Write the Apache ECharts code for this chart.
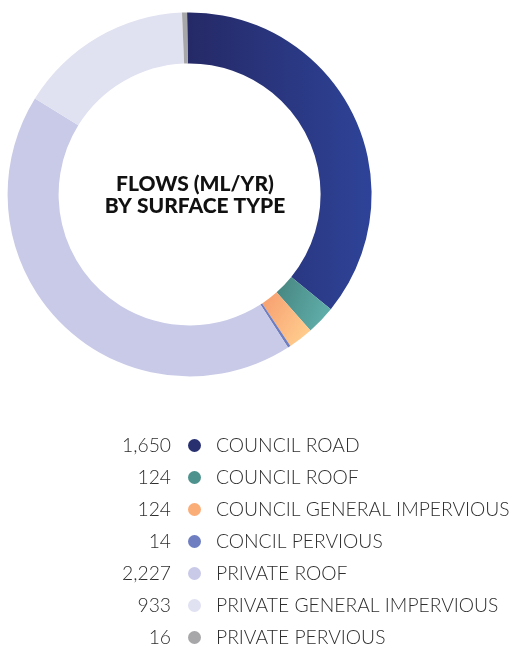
<!DOCTYPE html>
<html>
<head>
<meta charset="utf-8">
<script src="https://cdn.jsdelivr.net/npm/echarts@6/dist/echarts.min.js"></script>
<style>
html,body{margin:0;padding:0;background:#fff;}
#chart{width:515px;height:646px;}
</style>
</head>
<body>
<div id="chart"></div>
<script>
// Categories shown in the legend
const categories = [
  'COUNCIL ROAD',
  'COUNCIL ROOF',
  'COUNCIL GENERAL IMPERVIOUS',
  'CONCIL PERVIOUS',
  'PRIVATE ROOF',
  'PRIVATE GENERAL IMPERVIOUS',
  'PRIVATE PERVIOUS'
];
// Flow values printed next to the legend (ML/yr)
const flowLabels = ['1,650', '124', '124', '14', '2,227', '933', '16'];
// Ring slice sizes as read from the drawn ring (share of the circle)
const ringValues = [130.2, 9.3, 8.0, 0.9, 154.9, 55.9, 1.6];
const titleText = 'FLOWS (ML/YR)\nBY SURFACE TYPE';

const colors = [
  {type:'linear', x:0, y:0, x2:1, y2:0, colorStops:[{offset:0,color:'#252966'},{offset:1,color:'#2e4398'}]},
  {type:'linear', x:0, y:0, x2:1, y2:0.4, colorStops:[{offset:0,color:'#47847f'},{offset:1,color:'#5eaca8'}]},
  {type:'linear', x:0, y:0, x2:1, y2:0.6, colorStops:[{offset:0,color:'#f69c6e'},{offset:1,color:'#ffca8c'}]},
  '#6e7ec0',
  '#c8cae7',
  '#e0e1f1',
  '#a7a7a9'
];
const legendColors = ['#283070', '#4e928d', '#fbad78', '#6e7ec0', '#c8cae7', '#e0e1f1', '#a7a7a9'];

const chart = echarts.init(document.getElementById('chart'), null, {renderer:'canvas'});
const data = categories.map((c, i) => ({
  name: c,
  value: ringValues[i],
  itemStyle: {color: colors[i]}
}));
const legendData = categories.map((c, i) => ({name: c, itemStyle: {color: legendColors[i]}}));
const flowByName = {};
categories.forEach((c, i) => { flowByName[c] = flowLabels[i]; });

const legendText = {fontFamily: 'Lato', fontWeight: 300, fontSize: 19.3, color: '#2e2e2e', lineHeight: 19};

chart.setOption({
  animation: false,
  title: {
    text: titleText,
    left: 190,
    top: 168,
    textAlign: 'center',
    textStyle: {fontFamily: 'Lato', fontWeight: 900, fontSize: 21, color: '#111', lineHeight: 22}
  },
  legend: [
    {
      data: legendData,
      orient: 'vertical',
      align: 'right',
      right: 314,
      top: 436,
      height: 260,
      padding: 0,
      icon: 'circle',
      itemWidth: 13,
      itemHeight: 19,
      itemGap: 13,
      selectedMode: false,
      formatter: name => flowByName[name],
      textStyle: Object.assign({padding: [0, 12, 0, 0]}, legendText)
    },
    {
      data: legendData,
      orient: 'vertical',
      left: 211,
      top: 436,
      height: 260,
      padding: 0,
      icon: 'none',
      itemWidth: 0,
      itemHeight: 19,
      itemGap: 13,
      selectedMode: false,
      textStyle: legendText
    }
  ],
  series: [{
    type: 'pie',
    center: [189.6, 194.4],
    radius: [131, 182],
    startAngle: 90.8,
    clockwise: true,
    avoidLabelOverlap: false,
    label: {show: false},
    labelLine: {show: false},
    emphasis: {disabled: true},
    silent: true,
    data: data
  }]
});
</script>
</body>
</html>
